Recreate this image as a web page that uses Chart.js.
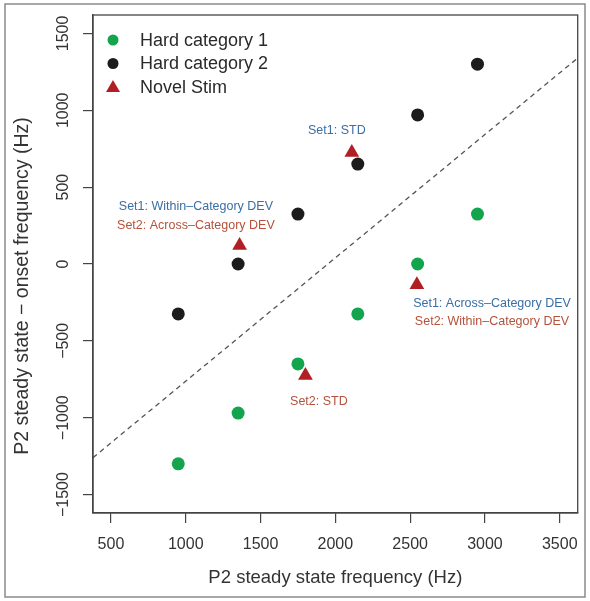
<!DOCTYPE html>
<html>
<head>
<meta charset="utf-8">
<script src="https://cdn.jsdelivr.net/npm/chart.js@4.4.0/dist/chart.umd.min.js"></script>
<style>
  body { margin: 0; background: #fff; }
  canvas { display: block; }
</style>
</head>
<body>
<canvas id="scatter" width="590" height="601"></canvas>
<script>
// data
var cat1X = [950, 1350, 1750, 2150, 2550, 2950];
var cat1Y = [-1300, -970, -650, -325, 0, 325];
var cat2X = [950, 1350, 1750, 2150, 2550, 2950];
var cat2Y = [-325, 0, 325, 650, 970, 1300];
var novelX = [1360, 2110, 1800, 2545];
var novelY = [120, 725, -725, -135];
var refLineX = [380, 3620];
var refLineY = [-1260, 1340];
var xTicks = [500, 1000, 1500, 2000, 2500, 3000, 3500];
var yTicks = [-1500, -1000, -500, 0, 500, 1000, 1500];
var seriesNames = ["Hard category 1", "Hard category 2", "Novel Stim"];

var FONT = '"Liberation Sans", Arial, sans-serif';
var GREEN = "#12a54e";
var BLACK = "#1c1c1c";
var RED = "#b11f24";
var BLUE = "#3b6ea5";
var BROWN = "#b4523c";
var YTITLE = "P2 steady state \u2212 onset frequency (Hz)";

function pts(xs, ys) {
  return xs.map(function (x, i) { return { x: x, y: ys[i] }; });
}

// text labels, anchored in data space
var notes = [
  { text: "Set1: STD", x: 2010, y: 870, color: BLUE },
  { text: "Set1: Within\u2013Category DEV", x: 1068, y: 374, color: BLUE },
  { text: "Set2: Across\u2013Category DEV", x: 1068, y: 251, color: BROWN },
  { text: "Set1: Across\u2013Category DEV", x: 3047, y: -257, color: BLUE },
  { text: "Set2: Within\u2013Category DEV", x: 3047, y: -374, color: BROWN },
  { text: "Set2: STD", x: 1890, y: -895, color: BROWN }
];

var extras = {
  id: "extras",
  beforeDraw: function (chart) {
    var c = chart.ctx;
    c.save();
    c.fillStyle = "#fff";
    c.fillRect(0, 0, chart.width, chart.height);
    c.strokeStyle = "#8a8a8a";
    c.lineWidth = 1.5;
    c.strokeRect(5, 4, 580, 593);
    c.restore();
  },
  afterDraw: function (chart) {
    var c = chart.ctx;
    var a = chart.chartArea;
    var xs = chart.scales.x, ys = chart.scales.y;
    c.save();
    // box
    c.strokeStyle = "#444";
    c.lineWidth = 1.3;
    c.strokeRect(a.left, a.top, a.right - a.left, a.bottom - a.top);

    // rotated y tick labels
    c.fillStyle = "#333";
    c.font = "16px " + FONT;
    c.textAlign = "center";
    c.textBaseline = "middle";
    yTicks.forEach(function (v) {
      c.save();
      c.translate(64, ys.getPixelForValue(v));
      c.rotate(-Math.PI / 2);
      c.fillText(String(v).replace("-", "\u2212"), 0, 0);
      c.restore();
    });

    // y title
    c.save();
    c.font = "19.5px " + FONT;
    c.translate(23, (a.top + a.bottom) / 2 + 22);
    c.rotate(-Math.PI / 2);
    c.fillText(YTITLE, 0, 0);
    c.restore();

    // annotations
    c.font = "12.5px " + FONT;
    notes.forEach(function (n) {
      c.fillStyle = n.color;
      c.fillText(n.text, xs.getPixelForValue(n.x), ys.getPixelForValue(n.y));
    });

    // legend
    var lx = a.left + 20, ly = a.top + 25, step = 23.5;
    var ds = chart.data.datasets;
    c.font = "18px " + FONT;
    c.textAlign = "left";
    for (var i = 0; i < 3; i++) {
      var d = ds[i], y = ly + i * step;
      c.fillStyle = d.backgroundColor;
      c.beginPath();
      if (d.pointStyle === "triangle") {
        c.moveTo(lx, y - 7);
        c.lineTo(lx + 7, y + 5);
        c.lineTo(lx - 7, y + 5);
        c.closePath();
      } else {
        c.arc(lx, y, 5.5, 0, Math.PI * 2);
      }
      c.fill();
      c.fillStyle = "#2a2a2a";
      c.fillText(d.label, lx + 27, y + 1);
    }
    c.restore();
  }
};

new Chart(document.getElementById("scatter"), {
  type: "scatter",
  data: {
    datasets: [
      {
        label: seriesNames[0],
        data: pts(cat1X, cat1Y),
        backgroundColor: GREEN,
        borderWidth: 0,
        pointRadius: 6.5
      },
      {
        label: seriesNames[1],
        data: pts(cat2X, cat2Y),
        backgroundColor: BLACK,
        borderWidth: 0,
        pointRadius: 6.5
      },
      {
        label: seriesNames[2],
        data: pts(novelX, novelY),
        backgroundColor: RED,
        borderWidth: 0,
        pointStyle: "triangle",
        pointRadius: 8.5
      },
      {
        type: "line",
        label: "ref",
        data: pts(refLineX, refLineY),
        borderColor: "#555",
        borderWidth: 1.3,
        borderDash: [5, 4],
        pointRadius: 0,
        fill: false
      }
    ]
  },
  options: {
    responsive: false,
    animation: false,
    layout: { padding: { left: 0, top: 15, right: 12, bottom: 0 } },
    plugins: {
      legend: { display: false },
      tooltip: { enabled: false }
    },
    scales: {
      x: {
        type: "linear",
        min: 380,
        max: 3620,
        afterFit: function (s) { s.height = 88; },
        afterBuildTicks: function (s) {
          s.ticks = xTicks.map(function (v) { return { value: v }; });
        },
        grid: { drawOnChartArea: false, tickLength: 10, color: "#444", lineWidth: 1.2 },
        border: { display: true, color: "#444", width: 1.3 },
        ticks: {
          color: "#333",
          padding: 12,
          font: { size: 16, family: FONT },
          callback: function (v) { return String(v); }
        },
        title: {
          display: true,
          text: "P2 steady state frequency (Hz)",
          color: "#333",
          font: { size: 18.5, family: FONT },
          padding: { top: 0, bottom: 12 }
        }
      },
      y: {
        type: "linear",
        min: -1620,
        max: 1620,
        afterFit: function (s) { s.width = 93; },
        afterBuildTicks: function (s) {
          s.ticks = yTicks.map(function (v) { return { value: v }; });
        },
        grid: { drawOnChartArea: false, tickLength: 10, color: "#444", lineWidth: 1.2 },
        border: { display: true, color: "#444", width: 1.3 },
        ticks: { display: false },
        title: { display: false }
      }
    }
  },
  plugins: [extras]
});
</script>
</body>
</html>
